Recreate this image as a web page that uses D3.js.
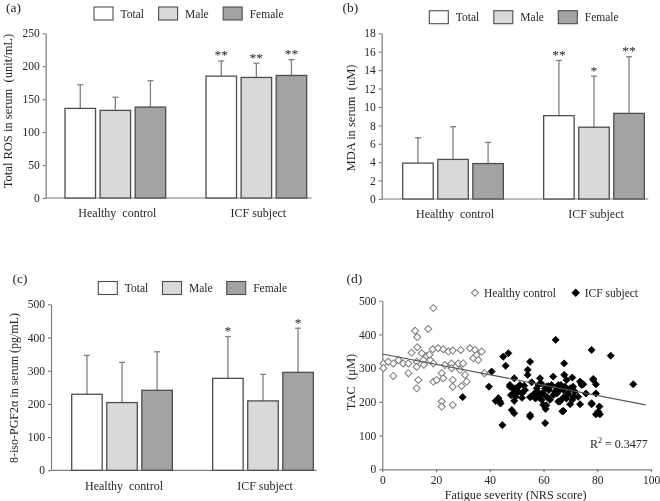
<!DOCTYPE html>
<html><head><meta charset="utf-8">
<script src="https://cdn.jsdelivr.net/npm/d3@7"></script>
<style>
body{margin:0;background:#fff}
svg{display:block;will-change:transform}
text{font-family:"Liberation Serif",serif;fill:#262626}
</style>
</head><body>
<svg id="c" width="660" height="501"></svg>
<script>
// ---------- DATA ----------
const categories = ["Healthy  control", "ICF subject"];
const seriesNames = ["Total", "Male", "Female"];

// (a) Total ROS in serum (unit/mL): [group][series]
const rosMean  = [[136, 133, 138], [185, 183, 186]];
const rosSD    = [[36, 20, 40], [23, 21.5, 24]];
const rosStars = [["", "", ""], ["**", "**", "**"]];
const rosTicks = [0, 50, 100, 150, 200, 250];

// (b) MDA in serum (uM)
const mdaMean  = [[3.9, 4.3, 3.85], [9.05, 7.8, 9.3]];
const mdaSD    = [[2.75, 3.55, 2.3], [6.0, 5.55, 6.15]];
const mdaStars = [["", "", ""], ["**", "*", "**"]];
const mdaTicks = [0, 2, 4, 6, 8, 10, 12, 14, 16, 18];

// (c) 8-iso-PGF2α in serum (pg/mL)
const isoMean  = [[229, 204, 241], [277, 209, 295]];
const isoSD    = [[117, 121, 116], [126, 80, 133]];
const isoStars = [["", "", ""], ["*", "", "*"]];
const isoTicks = [0, 100, 200, 300, 400, 500];

// (d) TAC vs fatigue severity: [NRS score, TAC]
const healthyPts = [
  [0.4,314],[0.4,300],[2.2,319],[4.1,314],[4.1,277],[6.0,324],[7.8,314],[9.7,314],[9.7,285],
  [10.9,346],[12.2,411],[12.8,319],[12.8,304],[12.8,240],[13.0,392],[13.0,362],[13.4,265],
  [14.7,344],[15.3,324],[16.5,336],[17.1,416],[17.8,324],[18.8,356],[19.0,478],[19.0,314],
  [19.0,260],[20.2,265],[20.8,359],[22.1,285],[22.1,201],[22.1,186],[22.7,356],[22.7,270],
  [23.3,309],[24.6,349],[25.8,314],[25.8,300],[26.2,352],[26.2,265],[26.2,245],[26.2,191],
  [28.3,314],[28.9,295],[29.2,354],[29.5,247],[30.1,314],[30.8,280],[31.4,260],[32.6,359],
  [33.9,329],[34.5,354],[35.1,339],[35.7,324],[37.0,349],[38.0,285],[15.5,310],[17.5,340]
];
const icfPts = [
  [29.9,214],[39.7,245],[40.7,290],[42.2,203],[43.2,211],[43.8,201],[44.7,131],[45.0,334],
  [45.9,307],[46.9,344],[47.5,250],[47.9,220],[48.2,176],[49.1,270],[49.1,166],[49.1,203],
  [49.6,215],[50.6,245],[51.9,225],[52.8,248],[53.1,235],[54.1,295],[54.1,280],[55.0,319],
  [55.0,156],[55.3,215],[55.6,258],[56.6,225],[57.5,240],[58.1,215],[58.7,270],[59.1,255],
  [59.3,206],[59.9,225],[59.9,191],[60.6,240],[60.6,137],[60.8,179],[62.4,206],[63.0,250],
  [63.6,275],[63.6,220],[64.3,230],[64.5,384],[64.9,240],[66.1,201],[66.5,250],[67.4,213],
  [67.4,173],[67.7,314],[67.7,280],[68.0,245],[68.6,265],[69.0,222],[69.9,240],[69.9,193],
  [70.7,272],[70.7,206],[71.7,230],[72.9,215],[73.6,260],[73.6,193],[74.2,250],[74.8,252],
  [75.8,225],[77.9,354],[77.9,193],[78.5,268],[79.5,252],[79.5,225],[79.5,163],[80.8,186],
  [81.0,163],[85.0,337],[93.4,252],[57.0,210],[58.0,228],[61.0,245],[62.0,235],[65.0,225],
  [66.0,235],[68.5,210],[71.0,245],[61.0,190],[52.0,212],[48.5,240],[67.0,172],[44.0,195],
  [74.2,255],[78.5,265],[47.5,245],[49.4,240],[51.2,250],[58.1,250],[61.8,247],[65.5,250],
  [48.8,225],[50.6,230],[59.3,225],[61.2,215],[67.4,235],[69.2,225],[71.1,215],[55.0,214],
  [65.5,201],[77.9,196],[55.0,161],[80.4,171]
];
const tacXTicks = [0, 20, 40, 60, 80, 100];
const tacYTicks = [0, 100, 200, 300, 400, 500];
const regIntercept = 342, regSlope = -1.54, regXRange = [0, 98];
const r2Value = "0.3477";

// ---------- STYLE ----------
const fills = {Total: "#ffffff", Male: "#d9d9d9", Female: "#a3a3a3"};
const axisCol = "#7f7f7f";
const fontFam = '"Liberation Serif",serif';
const svg = d3.select("#c");

function styleAxis(sel, fs) {
  sel.attr("font-family", fontFam);
  sel.select(".domain").attr("stroke", axisCol).attr("stroke-width", 1.2);
  sel.selectAll(".tick line").attr("stroke", axisCol).attr("stroke-width", 1.2);
  sel.selectAll(".tick text").attr("fill", "#262626").style("font-size", fs + "px")
     .style("font-family", fontFam);
}

function barPanel(o) {
  const g = svg.append("g");
  const y = d3.scaleLinear().domain([0, o.max]).range([o.yB, o.yT]);
  const x0 = d3.scaleBand().domain(categories).range([o.gx0, o.gx1]).paddingInner(0.286);
  const x1 = d3.scaleBand().domain(seriesNames).range([0, x0.bandwidth()]).paddingInner(0.13);

  const yAx = g.append("g").attr("transform", `translate(${o.ax},0)`)
    .call(d3.axisLeft(y).tickValues(o.ticks).tickSize(3).tickSizeOuter(0).tickPadding(3));
  styleAxis(yAx, 11.5);
  g.append("line").attr("x1", o.ax).attr("x2", o.axEnd).attr("y1", y(0)).attr("y2", y(0))
    .attr("stroke", axisCol).attr("stroke-width", 1.2);

  const rows = [];
  categories.forEach((c, i) => seriesNames.forEach((s, j) => rows.push({
    c, s, m: o.mean[i][j], sd: o.sd[i][j], star: o.stars[i][j]})));

  const bx = d => x0(d.c) + x1(d.s);
  const cx = d => bx(d) + x1.bandwidth() / 2;
  // error bars
  g.selectAll(".eb").data(rows).enter().append("line")
    .attr("x1", cx).attr("x2", cx).attr("y1", d => y(d.m)).attr("y2", d => y(d.m + d.sd))
    .attr("stroke", "#808080").attr("stroke-width", 1.3);
  g.selectAll(".cap").data(rows).enter().append("line")
    .attr("x1", d => cx(d) - 3).attr("x2", d => cx(d) + 3)
    .attr("y1", d => y(d.m + d.sd)).attr("y2", d => y(d.m + d.sd))
    .attr("stroke", "#808080").attr("stroke-width", 1.3);
  // bars
  g.selectAll(".bar").data(rows).enter().append("rect")
    .attr("x", bx).attr("width", x1.bandwidth())
    .attr("y", d => y(d.m)).attr("height", d => y(0) - y(d.m))
    .attr("fill", d => fills[d.s]).attr("stroke", "#4d4d4d").attr("stroke-width", 1.3);
  // stars
  g.selectAll(".star").data(rows.filter(d => d.star)).enter().append("text")
    .attr("x", cx).attr("y", d => y(d.m + d.sd) - 1.5).attr("text-anchor", "middle")
    .attr("fill", "#1a1a1a").style("fill", "#1a1a1a")
    .style("font-size", "13.5px").text(d => d.star);
  // category labels
  g.selectAll(".cat").data(categories).enter().append("text")
    .attr("x", d => x0(d) + x0.bandwidth() / 2 + 2).attr("y", o.catY).attr("text-anchor", "middle")
    .style("font-size", "12px").style("white-space", "pre").attr("xml:space", "preserve").text(d => d);
  // y title
  g.append("text").attr("transform", `translate(${o.titleX},${o.titleY}) rotate(-90)`)
    .attr("text-anchor", "middle").style("font-size", o.titleFs + "px").attr("xml:space", "preserve")
    .style("white-space", "pre").text(o.title);
  // panel tag
  g.append("text").attr("x", o.tagX).attr("y", o.tagY).style("font-size", "13.5px").text(o.tag);
  // legend
  const lg = g.selectAll(".lg").data(seriesNames).enter().append("g")
    .attr("transform", (d, i) => `translate(${o.legX + i * o.legStep},${o.legY})`);
  lg.append("rect").attr("x", 0).attr("y", -6.5).attr("width", 19).attr("height", 13)
    .attr("fill", d => fills[d]).attr("stroke", "#4d4d4d").attr("stroke-width", 1.1);
  lg.append("text").attr("x", 26.5).attr("y", 4.2).style("font-size", "11.5px").text(d => d);
}

barPanel({tag: "(a)", tagX: 6, tagY: 12, mean: rosMean, sd: rosSD, stars: rosStars, ticks: rosTicks,
  max: 250, yB: 198, yT: 33.3, ax: 45.7, axEnd: 311.7, gx0: 65, gx1: 306.7, catY: 217,
  title: "Total ROS in serum  (unit/mL)", titleX: 12, titleY: 111, titleFs: 12.5,
  legX: 94, legStep: 64.6, legY: 13.5});

barPanel({tag: "(b)", tagX: 342.5, tagY: 12, mean: mdaMean, sd: mdaSD, stars: mdaStars, ticks: mdaTicks,
  max: 18, yB: 199, yT: 33.3, ax: 381.7, axEnd: 648.3, gx0: 402.7, gx1: 644.3, catY: 217.5,
  title: "MDA in serum  (uM)", titleX: 355, titleY: 118, titleFs: 12.5,
  legX: 429.3, legStep: 64.5, legY: 17.2});

barPanel({tag: "(c)", tagX: 12.5, tagY: 282.5, mean: isoMean, sd: isoSD, stars: isoStars, ticks: isoTicks,
  max: 500, yB: 470.3, yT: 304.3, ax: 51, axEnd: 316.7, gx0: 71.7, gx1: 313.3, catY: 489.5,
  title: "8-iso-PGF2α in serum (pg/mL)", titleX: 17.5, titleY: 388, titleFs: 12,
  legX: 98.3, legStep: 64.2, legY: 288});

// ---------- (d) scatter ----------
(function () {
  const g = svg.append("g");
  const x = d3.scaleLinear().domain([0, 100]).range([382.3, 651]);
  const y = d3.scaleLinear().domain([0, 500]).range([469.3, 300.7]);
  const xa = g.append("g").attr("transform", `translate(0,${y(0)})`)
    .call(d3.axisBottom(x).tickValues(tacXTicks).tickSize(3).tickSizeOuter(0).tickPadding(4));
  styleAxis(xa, 11.5);
  const ya = g.append("g").attr("transform", `translate(${x(0)},0)`)
    .call(d3.axisLeft(y).tickValues(tacYTicks).tickSize(3).tickSizeOuter(0).tickPadding(3));
  styleAxis(ya, 11.5);

  const diamond = d3.symbol().type(d3.symbolSquare).size(25);
  g.selectAll(".hc").data(healthyPts).enter().append("path").attr("d", diamond)
    .attr("transform", d => `translate(${x(d[0])},${y(d[1])}) rotate(45)`)
    .attr("fill", "#fff").attr("stroke", "#7a7a7a").attr("stroke-width", 1);
  g.selectAll(".icf").data(icfPts).enter().append("path").attr("d", diamond)
    .attr("transform", d => `translate(${x(d[0])},${y(d[1])}) rotate(45)`)
    .attr("fill", "#000").attr("stroke", "#000").attr("stroke-width", 0.8);

  g.append("line")
    .attr("x1", x(regXRange[0])).attr("y1", y(regIntercept + regSlope * regXRange[0]))
    .attr("x2", x(regXRange[1])).attr("y2", y(regIntercept + regSlope * regXRange[1]))
    .attr("stroke", "#555").attr("stroke-width", 1.1);

  const r2 = g.append("text").attr("x", 590).attr("y", 447.5).style("font-size", "12px");
  r2.append("tspan").text("R");
  r2.append("tspan").attr("dy", -5).style("font-size", "8px").text("2");
  r2.append("tspan").attr("dy", 5).text(" = " + r2Value);

  g.append("text").attr("x", x(50) - 1).attr("y", 499).attr("text-anchor", "middle")
    .style("font-size", "12.2px").text("Fatigue severity (NRS score)");
  g.append("text").attr("transform", `translate(355,382) rotate(-90)`)
    .attr("text-anchor", "middle").style("font-size", "12.5px").attr("xml:space", "preserve")
    .style("white-space", "pre").text("TAC  (μM)");
  g.append("text").attr("x", 346.5).attr("y", 282.5).style("font-size", "13.5px").text("(d)");

  const leg = [{t: "Healthy control", x: 475, f: "#fff", s: "#7a7a7a"}, {t: "ICF subject", x: 575.7, f: "#000", s: "#000"}];
  const lg = g.selectAll(".lg").data(leg).enter().append("g")
    .attr("transform", d => `translate(${d.x},292.7)`);
  lg.append("path").attr("d", diamond).attr("transform", "rotate(45)")
    .attr("fill", d => d.f).attr("stroke", d => d.s);
  lg.append("text").attr("x", 9).attr("y", 4.2).style("font-size", "11.5px").text(d => d.t);
})();
</script>
</body></html>
